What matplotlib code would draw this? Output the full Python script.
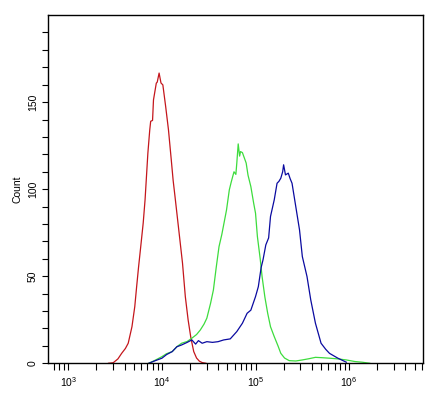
import matplotlib.pyplot as plt
import numpy as np
from matplotlib.ticker import LogLocator, MultipleLocator, NullFormatter

plt.rcParams["font.family"] = ["Liberation Sans", "DejaVu Sans"]

# log10 of fluorescence intensity, and event count
red_log = [3.43, 3.48, 3.53, 3.57, 3.61, 3.64, 3.68, 3.71, 3.73, 3.75, 3.77, 3.80, 3.82,
           3.85, 3.87, 3.88, 3.90, 3.91, 3.94, 3.95, 3.97, 3.99, 4.01, 4.04, 4.07, 4.10,
           4.12, 4.14, 4.18, 4.22, 4.25, 4.28, 4.31, 4.34, 4.37, 4.40, 4.43, 4.47]
red_count = [0, 0.3, 2.5, 5.7, 8.5, 11.5, 21.0, 32.5, 44.0, 55.0, 65.1, 80.5, 93.9,
             120.7, 134.0, 139.0, 139.5, 151.3, 160.9, 161.5, 166.7, 161.0, 159.9, 147.5, 134.1, 116.8,
             105.0, 95.7, 76.6, 57.5, 38.3, 24.9, 14.4, 6.7, 3.0, 1.2, 0.4, 0]

green_log = [3.86, 3.93, 4.00, 4.05, 4.11, 4.16, 4.21, 4.27, 4.32, 4.37, 4.41, 4.45, 4.48,
             4.52, 4.55, 4.58, 4.61, 4.64, 4.67, 4.69, 4.72, 4.74, 4.77, 4.79, 4.80, 4.815,
             4.83, 4.84, 4.86, 4.88, 4.90, 4.92, 4.95, 4.98, 5.00, 5.02, 5.05, 5.07, 5.10,
             5.13, 5.16, 5.20, 5.24, 5.27, 5.31, 5.36, 5.43, 5.50, 5.57, 5.64, 5.71, 5.79,
             5.88, 5.97, 6.06, 6.14, 6.22]
green_count = [0, 1.8, 3.8, 5.5, 6.7, 9.5, 11.5, 12.5, 14.4, 16.5, 19.1, 22.5, 25.9,
               34.5, 42.1, 55.0, 67.0, 74.0, 82.4, 88.0, 99.6, 104.0, 110.0, 108.5, 115.0, 126.0,
               119.0, 121.6, 121.0, 118.0, 115.0, 108.0, 101.5, 92.0, 86.2, 72.8, 60.0, 49.8, 38.0,
               28.7, 21.0, 15.3, 10.0, 5.7, 3.0, 1.5, 1.3, 1.9, 2.6, 3.4, 3.2, 2.9,
               2.5, 1.9, 1.0, 0.6, 0]

blue_log = [3.86, 3.93, 4.00, 4.05, 4.11, 4.16, 4.21, 4.27, 4.32, 4.36, 4.39, 4.43, 4.48,
            4.54, 4.60, 4.66, 4.73, 4.80, 4.86, 4.91, 4.95, 5.00, 5.03, 5.06, 5.08, 5.11,
            5.14, 5.16, 5.20, 5.23, 5.25, 5.27, 5.29, 5.30, 5.32, 5.35, 5.37, 5.39, 5.43,
            5.47, 5.50, 5.55, 5.59, 5.64, 5.70, 5.75, 5.79, 5.88, 5.97]
blue_count = [0, 1.5, 2.9, 5.0, 6.7, 9.5, 10.5, 12.0, 13.4, 11.0, 13.0, 11.5, 12.4,
              12.0, 12.4, 13.4, 14.0, 18.2, 23.0, 28.7, 30.5, 38.3, 44.0, 55.0, 59.4, 68.0,
              72.0, 84.3, 93.9, 103.4, 104.5, 106.3, 110.0, 114.0, 108.2, 109.2, 106.0, 103.4, 90.0,
              76.6, 61.3, 49.8, 36.4, 23.0, 11.5, 8.0, 5.7, 2.9, 0.6]

fig = plt.figure(figsize=(4.47, 3.97), dpi=100)
ax = fig.add_axes([0.108, 0.085, 0.839, 0.877])

ax.plot(10 ** np.array(red_log), red_count, color="#c4161c", lw=0.9)
ax.plot(10 ** np.array(green_log), green_count, color="#3ddc3d", lw=0.9)
ax.plot(10 ** np.array(blue_log), blue_count, color="#0a0aa0", lw=0.9)

ax.set_xscale("log")
ax.set_xlim(611, 6.2e6)
ax.set_ylim(0, 200)

ax.xaxis.set_major_locator(LogLocator(base=10, numticks=10))
ax.xaxis.set_minor_locator(LogLocator(base=10, subs=np.arange(2, 10), numticks=20))
ax.xaxis.set_minor_formatter(NullFormatter())
ax.set_yticks([0, 50, 100, 150])
ax.set_yticks(np.arange(10, 200, 10), minor=True)

ax.tick_params(which="both", direction="out", length=5, width=0.8, color="black", labelsize=7.5)
ax.tick_params(axis="y", which="both", length=4)
for lab in ax.get_yticklabels():
    lab.set_rotation(90)
    lab.set_va("center")

for s in ax.spines.values():
    s.set_linewidth(1.0)
    s.set_color("black")

ax.set_ylabel("Count", fontsize=7.5, labelpad=4)

fig.savefig("out.png", dpi=100)
